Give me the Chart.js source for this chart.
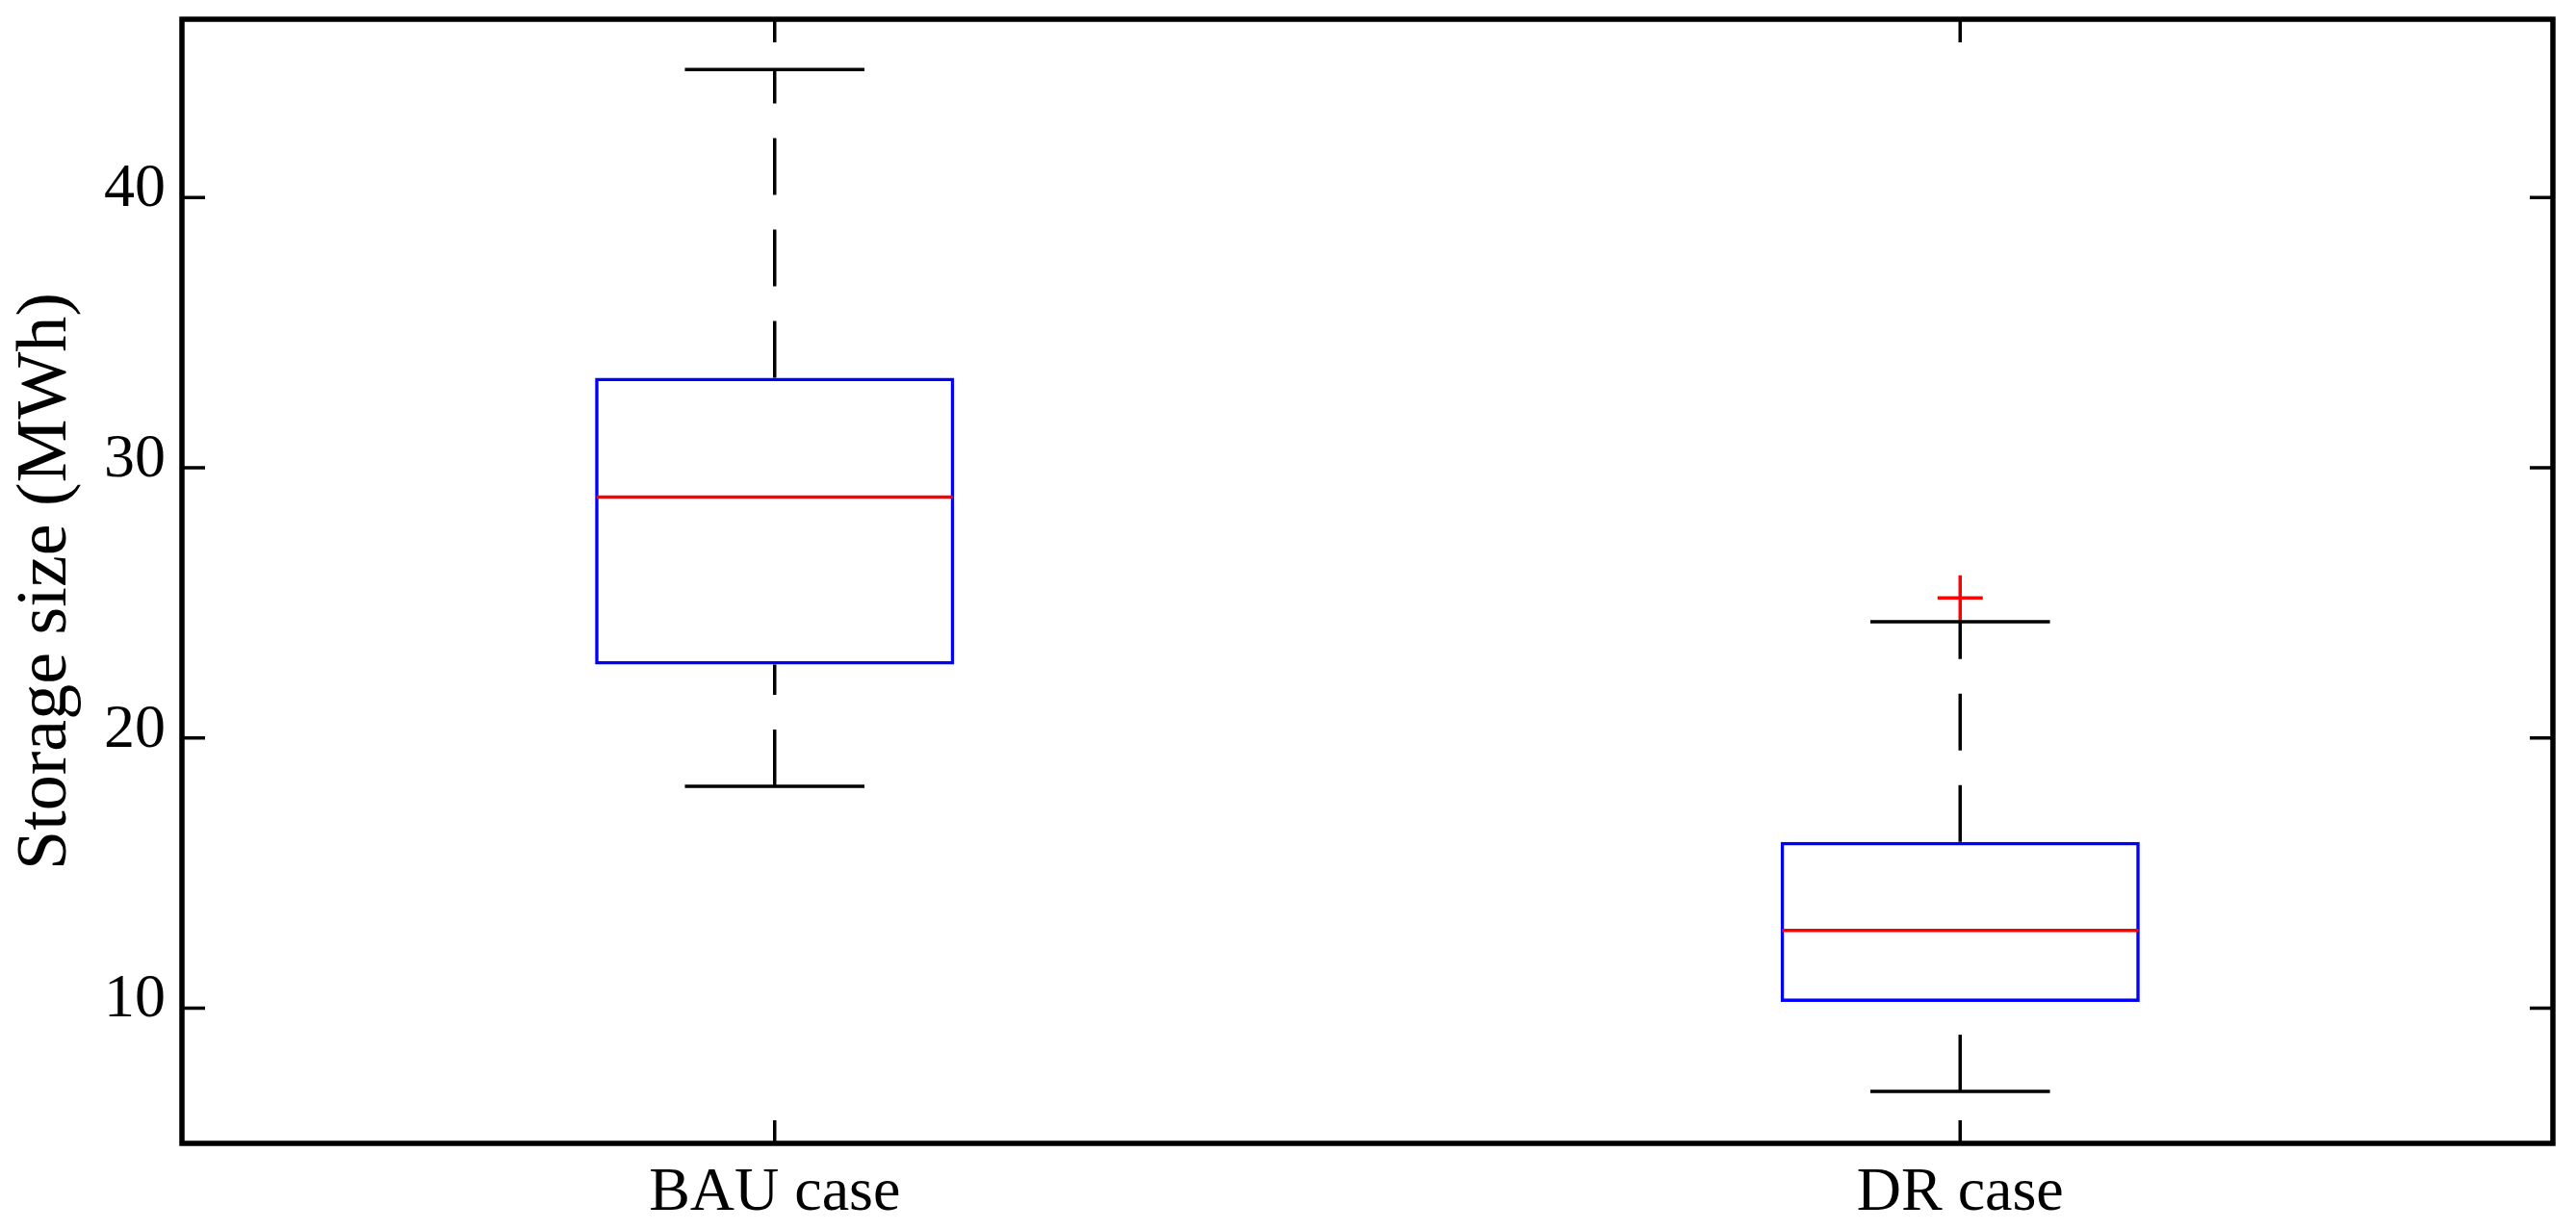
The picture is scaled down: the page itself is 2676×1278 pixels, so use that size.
<!DOCTYPE html>
<html>
<head>
<meta charset="utf-8">
<script src="https://cdn.jsdelivr.net/npm/chart.js@4/dist/chart.umd.min.js"></script>
<style>
  html, body { margin: 0; padding: 0; background: #ffffff; }
  #wrap { width: 2676px; height: 1278px; }
</style>
</head>
<body>
<div id="wrap"><canvas id="c" width="2676" height="1278"></canvas></div>
<script>
// ---- data ----
const categories = ['BAU case', 'DR case'];
const whiskerLow = [18.21, 6.92];
const q1 = [22.72, 10.24];
const median = [28.92, 12.88];
const q3 = [33.33, 16.16];
const whiskerHigh = [44.74, 24.30];
const outliers = [[], [25.19]];
const yTicks = [10, 20, 30, 40];
const yMin = 5;
const yMax = 46.6;

const FONT = "'Liberation Serif', 'Times New Roman', serif";

const boxPlugin = {
  id: 'boxParts',
  afterDatasetsDraw(chart) {
    const ctx = chart.ctx;
    const ys = chart.scales.y;
    const meta = chart.getDatasetMeta(0);
    ctx.save();
    meta.data.forEach((bar, i) => {
      const cx = bar.x;
      const half = bar.width / 2;
      const capHalf = half / 2;
      // whiskers (dashed)
      ctx.strokeStyle = '#000000';
      ctx.lineWidth = 3.5;
      ctx.setLineDash([59, 36]);
      ctx.lineCap = 'butt';
      ctx.beginPath();
      ctx.moveTo(cx, ys.getPixelForValue(q3[i]));
      ctx.lineTo(cx, ys.getPixelForValue(whiskerHigh[i]));
      ctx.stroke();
      ctx.beginPath();
      ctx.moveTo(cx, ys.getPixelForValue(whiskerLow[i]));
      ctx.lineTo(cx, ys.getPixelForValue(q1[i]));
      ctx.stroke();
      ctx.setLineDash([]);
      // caps
      ctx.beginPath();
      const yh = ys.getPixelForValue(whiskerHigh[i]);
      const yl = ys.getPixelForValue(whiskerLow[i]);
      ctx.moveTo(cx - capHalf, yh); ctx.lineTo(cx + capHalf, yh);
      ctx.moveTo(cx - capHalf, yl); ctx.lineTo(cx + capHalf, yl);
      ctx.stroke();
      // median
      ctx.strokeStyle = '#ff0000';
      ctx.lineWidth = 3.5;
      const ym = ys.getPixelForValue(median[i]);
      ctx.beginPath();
      ctx.moveTo(cx - half + 1.5, ym); ctx.lineTo(cx + half - 1.5, ym);
      ctx.stroke();
    });
    ctx.restore();
  },
  afterDraw(chart) {
    const ctx = chart.ctx;
    const ys = chart.scales.y;
    const xs = chart.scales.x;
    const a = chart.chartArea;
    ctx.save();
    ctx.strokeStyle = '#000000';
    // inward ticks on all four sides
    ctx.lineWidth = 3.5;
    const tl = 24;
    ctx.beginPath();
    ys.ticks.forEach((t) => {
      const y = ys.getPixelForValue(t.value);
      ctx.moveTo(a.left, y); ctx.lineTo(a.left + tl, y);
      ctx.moveTo(a.right, y); ctx.lineTo(a.right - tl, y);
    });
    xs.ticks.forEach((t, i) => {
      const x = xs.getPixelForTick(i);
      ctx.moveTo(x, a.top); ctx.lineTo(x, a.top + tl);
      ctx.moveTo(x, a.bottom); ctx.lineTo(x, a.bottom - tl);
    });
    ctx.stroke();
    // frame
    ctx.lineWidth = 5.5;
    ctx.strokeRect(a.left, a.top, a.right - a.left, a.bottom - a.top);
    ctx.restore();
  }
};

const outlierPoints = [];
outliers.forEach((arr, i) => arr.forEach(v => outlierPoints.push({ x: categories[i], y: v })));

new Chart(document.getElementById('c'), {
  type: 'bar',
  data: {
    labels: categories,
    datasets: [
      {
        label: 'box',
        data: categories.map((c, i) => [q1[i], q3[i]]),
        backgroundColor: 'rgba(0,0,0,0)',
        borderColor: '#0000ff',
        borderWidth: 3.5,
        borderSkipped: false,
        categoryPercentage: 1.0,
        barPercentage: 0.303
      },
      {
        type: 'scatter',
        label: 'outliers',
        data: outlierPoints,
        pointStyle: 'cross',
        pointRadius: 23.5,
        pointBorderWidth: 3.5,
        borderColor: '#ff0000',
        backgroundColor: '#ff0000'
      }
    ]
  },
  options: {
    responsive: false,
    devicePixelRatio: 1,
    animation: false,
    layout: { autoPadding: false, padding: { left: 0, top: 20, right: 24, bottom: 0 } },
    plugins: { legend: { display: false }, tooltip: { enabled: false } },
    scales: {
      x: {
        type: 'category',
        offset: true,
        grid: { display: false, drawTicks: false, tickLength: 0 },
        border: { display: false },
        ticks: { color: '#000000', font: { family: FONT, size: 64 }, padding: 14 },
        afterFit(scale) { scale.height = 90; scale.paddingLeft = 0; scale.paddingRight = 0; }
      },
      y: {
        type: 'linear',
        min: yMin,
        max: yMax,
        grid: { display: false, drawTicks: false, tickLength: 0 },
        border: { display: false },
        afterBuildTicks(scale) { scale.ticks = yTicks.map(v => ({ value: v })); },
        ticks: { color: '#000000', font: { family: FONT, size: 64 }, padding: 17, labelOffset: -8,
                 callback: (v) => String(v) },
        title: { display: true, text: 'Storage size (MWh)', color: '#000000',
                 font: { family: FONT, size: 74 }, padding: { top: 4, bottom: 0 } },
        afterFit(scale) { scale.width = 189; scale.paddingTop = 0; scale.paddingBottom = 0; }
      }
    }
  },
  plugins: [boxPlugin]
});
</script>
</body>
</html>
